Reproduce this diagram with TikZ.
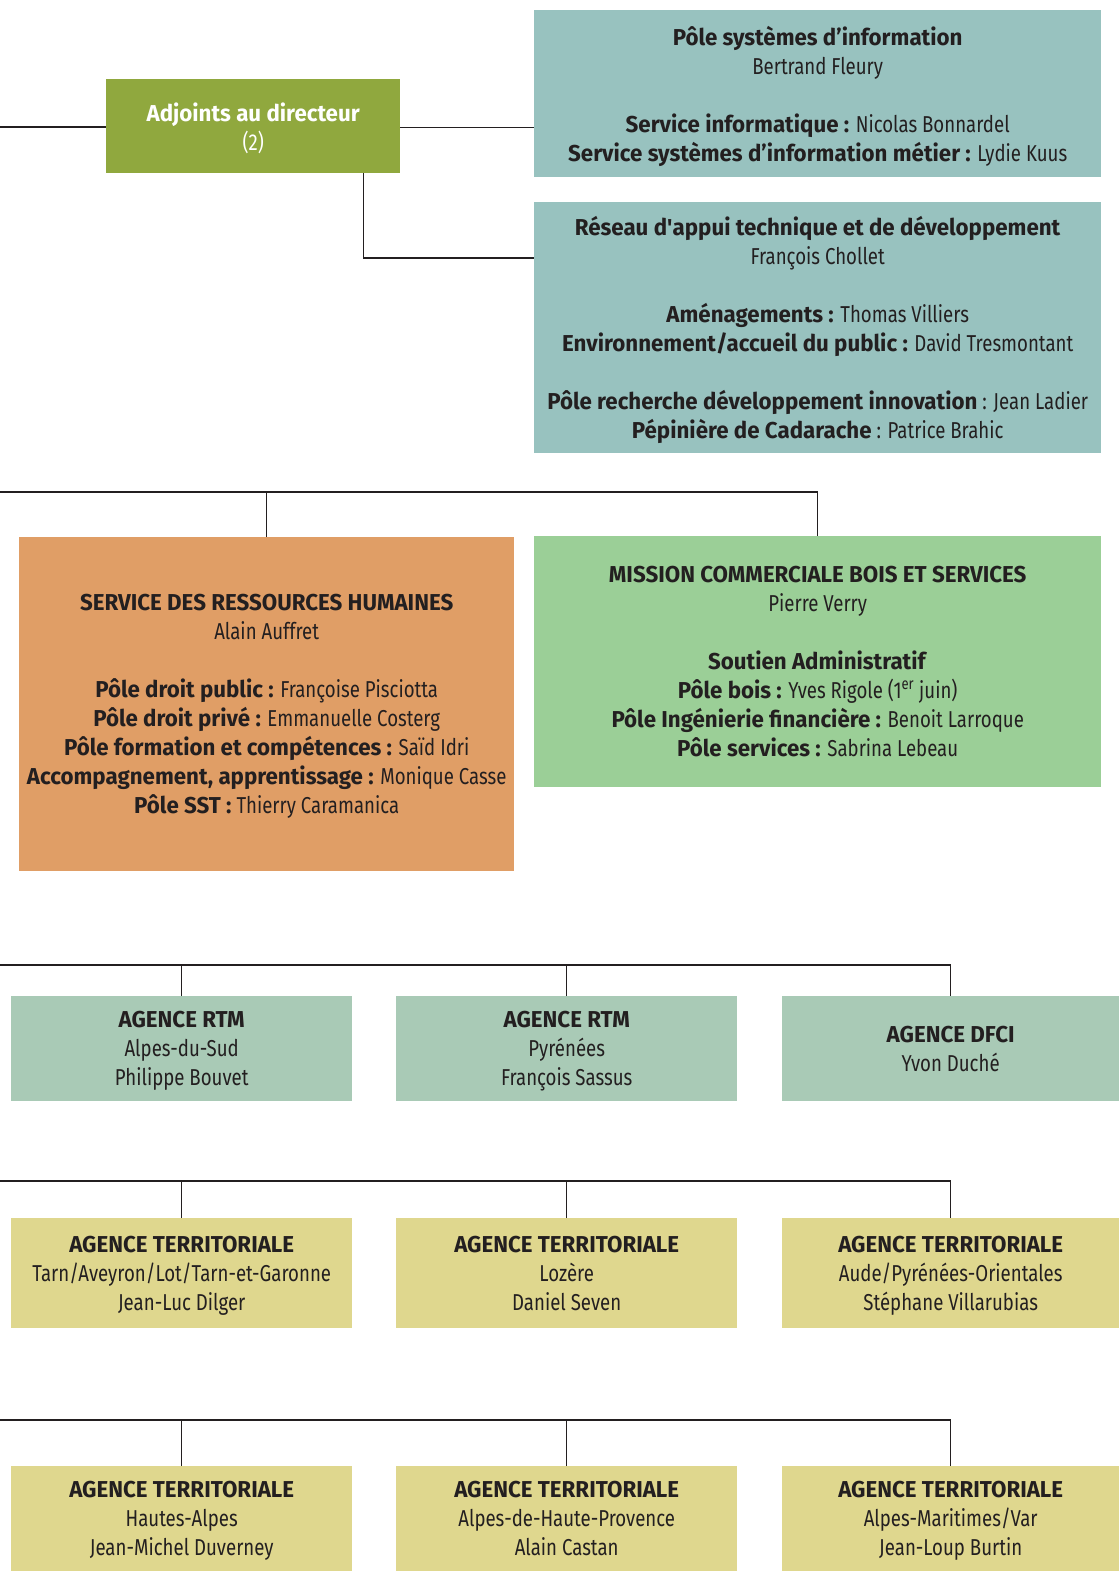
\documentclass[tikz,border=0pt]{standalone}
\usepackage{fontspec}
\setmainfont[FakeStretch=0.81,BoldFeatures={FakeStretch=0.97}]{Fira Sans}
\usetikzlibrary{positioning}
\definecolor{adjgreen}{HTML}{90A83E}
\definecolor{teal}{HTML}{98C2BF}
\definecolor{orangebox}{HTML}{E09E66}
\definecolor{mintgreen}{HTML}{9BCF97}
\definecolor{rtmgreen}{HTML}{A9CAB6}
\definecolor{sand}{HTML}{DFD78E}
\definecolor{ink}{HTML}{231F20}
\newcommand{\blank}{\\[29pt]}

\begin{document}
\begin{tikzpicture}[x=1pt,y=-1pt,
   box/.style={anchor=north west,inner sep=0pt,align=center,text=ink,
      font=\fontsize{23}{29}\selectfont,text depth=-1pt},
   wire/.style={draw=ink,line width=1.1pt}]
   \useasboundingbox (0,0) rectangle (1119,1571);
   \node[box,fill=adjgreen,text=white,minimum width=294,minimum height=94] (adj) at (106,79)
      {\textbf{Adjoints au directeur}\\(2)};
   \node[box,fill=teal,minimum width=567,minimum height=167] (psi) at (534,10)
      {\textbf{Pôle systèmes d’information}\\Bertrand Fleury\blank
       \textbf{Service informatique :} Nicolas Bonnardel\\
       \textbf{Service systèmes d’information métier :} Lydie Kuus};
   \node[box,fill=teal,minimum width=567,minimum height=251] (rat) at (534,202)
      {\textbf{Réseau d\textquotesingle appui technique et de développement}\\François Chollet\blank
       \textbf{Aménagements :} Thomas Villiers\\
       \textbf{Environnement/accueil du public :} David Tresmontant\blank
       \textbf{Pôle recherche développement innovation} : Jean Ladier\\
       \textbf{Pépinière de Cadarache} : Patrice Brahic};
   \node[box,fill=orangebox,minimum width=495,minimum height=334] (srh) at (19,537)
      {\textbf{SERVICE DES RESSOURCES HUMAINES}\\Alain Auffret\blank
       \textbf{Pôle droit public :} Françoise Pisciotta\\
       \textbf{Pôle droit privé :} Emmanuelle Costerg\\
       \textbf{Pôle formation et compétences :} Saïd Idri\\
       \textbf{Accompagnement, apprentissage :} Monique Casse\\
       \textbf{Pôle SST :} Thierry Caramanica};
   \node[box,fill=mintgreen,minimum width=567,minimum height=251] (mcbs) at (534,536)
      {\textbf{MISSION COMMERCIALE BOIS ET SERVICES}\\Pierre Verry\blank
       \textbf{Soutien Administratif}\\
       \textbf{Pôle bois :} Yves Rigole (1\textsuperscript{er} juin)\\
       \textbf{Pôle Ingénierie financière :} Benoit Larroque\\
       \textbf{Pôle services :} Sabrina Lebeau};
   \node[box,fill=rtmgreen,minimum width=341,minimum height=105] (rtm1) at (11,996)
      {\textbf{AGENCE RTM}\\Alpes-du-Sud\\Philippe Bouvet};
   \node[box,fill=rtmgreen,minimum width=341,minimum height=105] (rtm2) at (396,996)
      {\textbf{AGENCE RTM}\\Pyrénées\\François Sassus};
   \node[box,fill=rtmgreen,minimum width=337,minimum height=105] (dfci) at (782,996)
      {\textbf{AGENCE DFCI}\\Yvon Duché};
   \node[box,fill=sand,minimum width=341,minimum height=110] (at1) at (11,1218)
      {\textbf{AGENCE TERRITORIALE}\\Tarn/Aveyron/Lot/Tarn-et-Garonne\\Jean-Luc Dilger};
   \node[box,fill=sand,minimum width=341,minimum height=110] (at2) at (396,1218)
      {\textbf{AGENCE TERRITORIALE}\\Lozère\\Daniel Seven};
   \node[box,fill=sand,minimum width=337,minimum height=110] (at3) at (782,1218)
      {\textbf{AGENCE TERRITORIALE}\\Aude/Pyrénées-Orientales\\Stéphane Villarubias};
   \node[box,fill=sand,minimum width=341,minimum height=105] (at4) at (11,1466)
      {\textbf{AGENCE TERRITORIALE}\\Hautes-Alpes\\Jean-Michel Duverney};
   \node[box,fill=sand,minimum width=341,minimum height=105] (at5) at (396,1466)
      {\textbf{AGENCE TERRITORIALE}\\Alpes-de-Haute-Provence\\Alain Castan};
   \node[box,fill=sand,minimum width=337,minimum height=105] (at6) at (782,1466)
      {\textbf{AGENCE TERRITORIALE}\\Alpes-Maritimes/Var\\Jean-Loup Burtin};
   % free ends on the left edge
   \coordinate (w1) at (0,127);
   \coordinate (w2) at (0,492);
   \coordinate (w3) at (0,965);
   \coordinate (w4) at (0,1181);
   \coordinate (w5) at (0,1420);
   \draw[wire] (w1) -- (w1 -| adj.west);
   \draw[wire] ([yshift=-1pt]adj.east) -- ([yshift=-1pt]adj.east -| psi.west);
   \draw[wire] ([xshift=-37pt]adj.south east) |- ([yshift=-56pt]rat.north west);
   \draw[wire] (w2) -| (mcbs.north);
   \draw[wire] (srh.north) -- (srh.north |- w2);
   \draw[wire] (w3) -| (dfci.north);
   \draw[wire] (rtm1.north) -- (rtm1.north |- w3);
   \draw[wire] (rtm2.north) -- (rtm2.north |- w3);
   \draw[wire] (w4) -| (at3.north);
   \draw[wire] (at1.north) -- (at1.north |- w4);
   \draw[wire] (at2.north) -- (at2.north |- w4);
   \draw[wire] (w5) -| (at6.north);
   \draw[wire] (at4.north) -- (at4.north |- w5);
   \draw[wire] (at5.north) -- (at5.north |- w5);
\end{tikzpicture}
\end{document}
